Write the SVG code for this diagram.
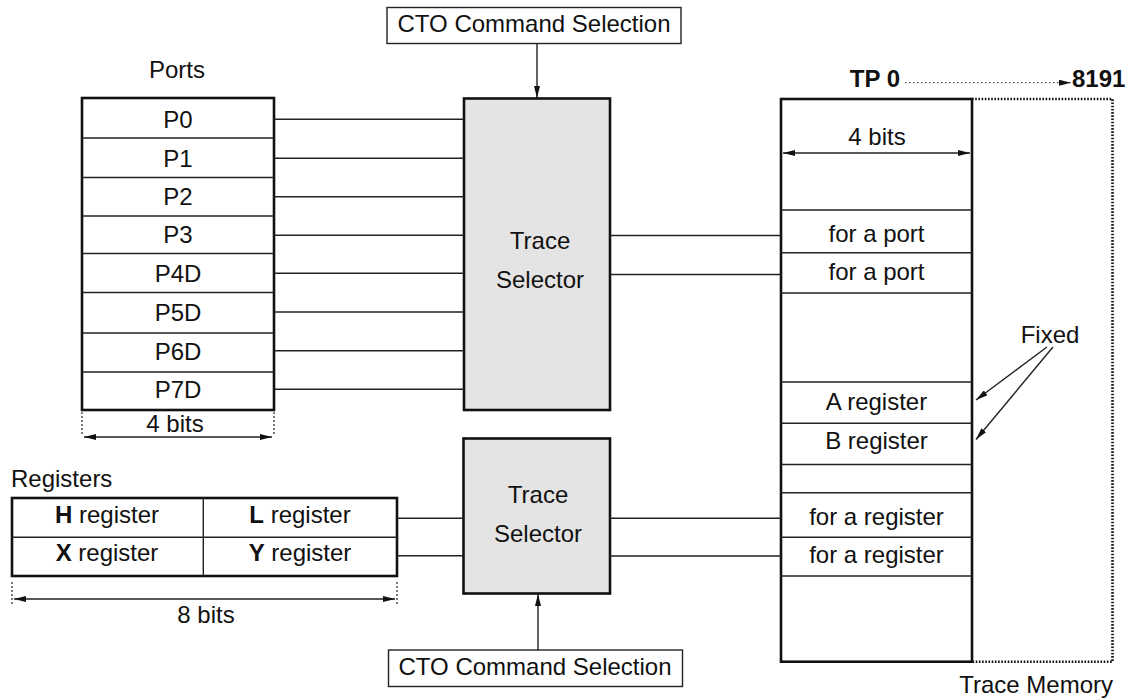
<svg xmlns="http://www.w3.org/2000/svg" width="1127" height="700" viewBox="0 0 1127 700">
<style>
text{font-family:"Liberation Sans",Arial,sans-serif;font-size:24px;fill:#111}
.c{text-anchor:middle}
.b{font-weight:bold}
.outer{fill:#fff;stroke:#111;stroke-width:2.6}
.sel{fill:#e4e4e4;stroke:#111;stroke-width:2.6}
.div{stroke:#222;stroke-width:1.4;fill:none}
.ln{stroke:#222;stroke-width:1.4;fill:none}
.box{fill:#fff;stroke:#222;stroke-width:1.4}
.ext{stroke:#222;stroke-width:1.2;stroke-dasharray:2 2;fill:none}
.dotfr{stroke:#111;stroke-width:2.6;stroke-dasharray:1.6 1.6;fill:none}
.dotar{stroke:#222;stroke-width:1;stroke-dasharray:1.5 2.5;fill:none}
</style>
<defs>
<marker id="ah" viewBox="0 0 12 6" refX="12" refY="3" markerWidth="12" markerHeight="6" markerUnits="userSpaceOnUse" orient="auto-start-reverse">
<path d="M0,0 L12,3 L0,6 Z" fill="#111"/>
</marker>
</defs>

<g id="ports">
<text class="c" x="177" y="78">Ports</text>
<rect class="outer" x="82" y="98" width="192" height="312"/>
<path class="div" d="M82,138H274M82,177.5H274M82,216H274M82,253.5H274M82,292.5H274M82,333H274M82,372H274"/>
<text class="c" x="178" y="128">P0</text>
<text class="c" x="178" y="166.5">P1</text>
<text class="c" x="178" y="205">P2</text>
<text class="c" x="178" y="243">P3</text>
<text class="c" x="178" y="282">P4D</text>
<text class="c" x="178" y="321">P5D</text>
<text class="c" x="178" y="360">P6D</text>
<text class="c" x="178" y="398">P7D</text>
<path class="ext" d="M82,412V434M274,412V434"/>
<text class="c" x="175" y="432">4 bits</text>
<path class="ln" d="M84,437H272" marker-start="url(#ah)" marker-end="url(#ah)"/>
</g>

<g id="registers">
<text x="11" y="487">Registers</text>
<rect class="outer" x="12" y="498" width="385" height="78"/>
<path class="div" d="M12,537.3H397M203.3,498V576"/>
<text class="c" x="107" y="523"><tspan class="b">H</tspan> register</text>
<text class="c" x="300" y="523"><tspan class="b">L</tspan> register</text>
<text class="c" x="107" y="561"><tspan class="b">X</tspan> register</text>
<text class="c" x="300" y="561"><tspan class="b">Y</tspan> register</text>
<path class="ext" d="M12,582V604M397,582V604"/>
<path class="ln" d="M14,599H395" marker-start="url(#ah)" marker-end="url(#ah)"/>
<text class="c" x="206" y="623">8 bits</text>
</g>

<g id="cto-top">
<rect class="box" x="387" y="7.5" width="294" height="36"/>
<text class="c" x="534" y="32">CTO Command Selection</text>
</g>

<g id="selector1">
<rect class="sel" x="464" y="98.5" width="146" height="311.5"/>
<text class="c" x="540" y="249">Trace</text>
<text class="c" x="540" y="287.5">Selector</text>
</g>

<g id="selector2">
<rect class="sel" x="463.5" y="438.5" width="146.5" height="155"/>
<text class="c" x="538" y="503">Trace</text>
<text class="c" x="538" y="541.5">Selector</text>
</g>

<g id="cto-bottom">
<rect class="box" x="388.5" y="650" width="294" height="36.5"/>
<text class="c" x="535" y="675">CTO Command Selection</text>
</g>

<g id="memory">
<path class="dotfr" d="M972,99H1112.5V661.7H972"/>
<rect class="outer" x="781" y="99" width="191" height="562.7"/>
<path class="div" d="M781,210H972M781,252.7H972M781,293H972M781,382H972M781,423.3H972M781,464.5H972M781,492.7H972M781,537.3H972M781,576H972"/>
<text class="c" x="877" y="145">4 bits</text>
<path class="ln" d="M783,153H970" marker-start="url(#ah)" marker-end="url(#ah)"/>
<text class="c" x="876.5" y="241.5">for a port</text>
<text class="c" x="876.5" y="280">for a port</text>
<text class="c" x="876.5" y="410">A register</text>
<text class="c" x="876.5" y="449.3">B register</text>
<text class="c" x="876.5" y="525">for a register</text>
<text class="c" x="876.5" y="563.3">for a register</text>
<text class="b" x="900" y="87" style="text-anchor:end">TP 0</text>
<text class="b" x="1072" y="87">8191</text>
<path class="dotar" d="M905,82.7H1071" marker-end="url(#ah)"/>
<text x="1113" y="693" style="text-anchor:end">Trace Memory</text>
<text class="c" x="1050" y="343">Fixed</text>
</g>

<g id="connectors">
<path class="ln" d="M274,119.3H464M274,158.3H464M274,196.7H464M274,235.3H464M274,273.3H464M274,312H464M274,350.7H464M274,389.3H464"/>
<path class="ln" d="M610,235.5H781M610,274.5H781"/>
<path class="ln" d="M397,518.3H463.5M397,555.7H463.5"/>
<path class="ln" d="M610,518.3H781M610,556H781"/>
<path class="ln" d="M537,43.5V98" marker-end="url(#ah)"/>
<path class="ln" d="M538,650V594" marker-end="url(#ah)"/>
<path class="ln" d="M1047,347L976,400" marker-end="url(#ah)"/>
<path class="ln" d="M1053,347L976,439.5" marker-end="url(#ah)"/>
</g>
</svg>
